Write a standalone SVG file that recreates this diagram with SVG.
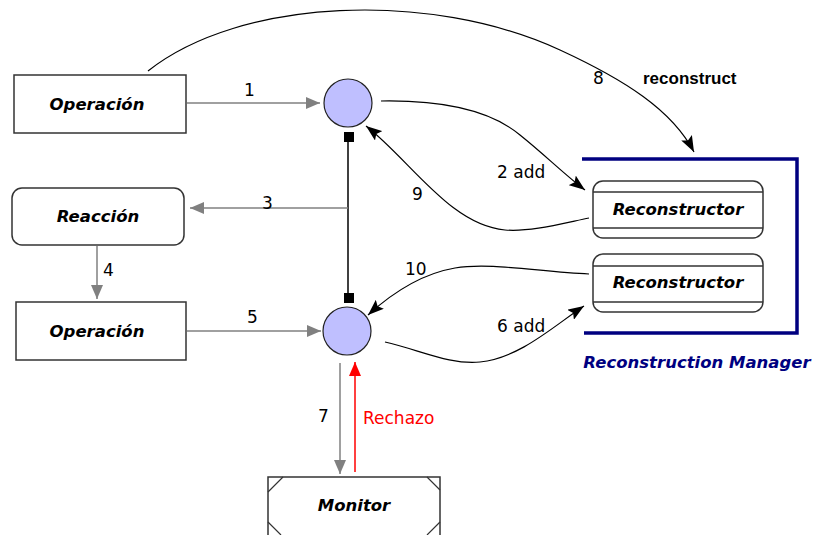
<svg xmlns="http://www.w3.org/2000/svg" width="813" height="535" viewBox="0 0 813 535">
  <defs>
    <marker id="grayHead" markerUnits="userSpaceOnUse" markerWidth="16" markerHeight="12" refX="14" refY="6" orient="auto">
      <path d="M0,0 L14,6 L0,12 z" fill="#808080"/>
    </marker>
    <marker id="blackHead" markerUnits="userSpaceOnUse" markerWidth="18" markerHeight="12" refX="16" refY="6" orient="auto">
      <path d="M0,0 L16,6 L0,12 L3,6 z" fill="#000"/>
    </marker>
    <marker id="redHead" markerUnits="userSpaceOnUse" markerWidth="16" markerHeight="12" refX="14" refY="6" orient="auto">
      <path d="M0,0 L14,6 L0,12 z" fill="#ff0000"/>
    </marker>
  </defs>
  <style>
    .box { fill: #fff; stroke: #333; stroke-width: 1.5; }
    .node-text { font-family: "DejaVu Sans", Verdana, sans-serif; font-weight: bold; font-style: italic; font-size: 16.5px; fill: #000; text-anchor: middle; }
    .lbl { font-family: "DejaVu Sans", Verdana, sans-serif; font-size: 17px; fill: #000; }
    .gray { stroke: #808080; stroke-width: 1.5; fill: none; marker-end: url(#grayHead); }
    .curve { stroke: #000; stroke-width: 1.2; fill: none; marker-end: url(#blackHead); }
    .place { fill: #bfbfff; stroke: #222; stroke-width: 1.2; }
    .sq { fill: #000; }
  </style>
  <rect width="813" height="535" fill="#fff"/>

  <!-- Reconstruction Manager container -->
  <g id="manager">
    <path d="M582,159 L797,159 L797,333 L584,333" fill="none" stroke="#000080" stroke-width="3.5"/>
    <text x="697" y="368" font-family="DejaVu Sans, Verdana, sans-serif" font-weight="bold" font-style="italic" font-size="16.5" fill="#000080" text-anchor="middle">Reconstruction Manager</text>
  </g>

  <g id="operacion1">
    <rect class="box" x="14" y="75" width="172" height="58"/>
    <text class="node-text" x="97" y="110" font-size="17">Operación</text>
  </g>

  <g id="reaccion">
    <rect class="box" x="12" y="188" width="172" height="57" rx="10"/>
    <text class="node-text" x="98" y="222" font-size="17">Reacción</text>
  </g>

  <g id="operacion2">
    <rect class="box" x="16" y="302" width="170" height="58"/>
    <text class="node-text" x="97" y="337" font-size="17">Operación</text>
  </g>

  <g id="reconstructor1">
    <rect class="box" x="593" y="181" width="170" height="57" rx="10"/>
    <line x1="593" y1="192" x2="763" y2="192" stroke="#333" stroke-width="1.3"/>
    <line x1="593" y1="228" x2="763" y2="228" stroke="#333" stroke-width="1.3"/>
    <text class="node-text" x="678" y="215">Reconstructor</text>
  </g>

  <g id="reconstructor2">
    <rect class="box" x="593" y="254" width="170" height="58" rx="10"/>
    <line x1="593" y1="266" x2="763" y2="266" stroke="#333" stroke-width="1.3"/>
    <line x1="593" y1="302" x2="763" y2="302" stroke="#333" stroke-width="1.3"/>
    <text class="node-text" x="678" y="288">Reconstructor</text>
  </g>

  <g id="monitor">
    <rect class="box" x="268" y="477" width="172" height="70"/>
    <path d="M268,492 L283,477 M427,477 L440,490 M268,522 L281,535 M440,522 L427,535" stroke="#333" stroke-width="1.2" fill="none"/>
    <text class="node-text" x="354" y="511" font-size="17">Monitor</text>
  </g>

  <g id="place1">
    <circle class="place" cx="348" cy="103" r="24"/>
  </g>
  <g id="place2">
    <circle class="place" cx="347" cy="331" r="24"/>
  </g>

  <g id="connectors">
    <!-- link between places with square ends -->
    <line x1="348" y1="142" x2="348" y2="293" stroke="#000" stroke-width="1.5"/>
    <rect class="sq" x="344" y="132" width="10" height="10"/>
    <rect class="sq" x="344" y="293" width="10" height="10"/>

    <!-- gray flows -->
    <line class="gray" x1="187" y1="103" x2="320" y2="103"/>
    <line class="gray" x1="348" y1="208" x2="190" y2="208"/>
    <line class="gray" x1="97" y1="246" x2="97" y2="299"/>
    <line class="gray" x1="187" y1="331" x2="321" y2="331"/>
    <line class="gray" x1="340" y1="363" x2="340" y2="474"/>
    <line x1="355" y1="472" x2="355" y2="362" stroke="#ff0000" stroke-width="1.5" marker-end="url(#redHead)"/>

    <!-- black curved flows -->
    <path class="curve" d="M148,71 C240,-2 430,-10 560,50 C625,80 672,110 694,152"/>
    <path class="curve" d="M381,101 C440,100 490,110 520,135 C545,155 565,175 585,190"/>
    <path class="curve" d="M589,218 C560,224 530,232 505,230 C450,225 410,160 366,126"/>
    <path class="curve" d="M589,274 C540,272 490,262 455,268 C420,274 390,295 368,315"/>
    <path class="curve" d="M385,342 C420,350 450,365 480,362 C520,358 555,325 584,306"/>

    <!-- labels -->
    <text class="lbl" x="244" y="96">1</text>
    <text class="lbl" x="497" y="178">2 add</text>
    <text class="lbl" x="262" y="209">3</text>
    <text class="lbl" x="103" y="276">4</text>
    <text class="lbl" x="247" y="323">5</text>
    <text class="lbl" x="497" y="332">6 add</text>
    <text class="lbl" x="318" y="422">7</text>
    <text class="lbl" x="593" y="84">8</text>
    <text class="lbl" x="412" y="200">9</text>
    <text class="lbl" x="405" y="275">10</text>
    <text x="643" y="84" font-family="Liberation Sans, Arial, sans-serif" font-weight="bold" font-size="17" fill="#000">reconstruct</text>
    <text x="363" y="424" font-family="DejaVu Sans, Verdana, sans-serif" font-size="17" fill="#ff0000">Rechazo</text>
  </g>
</svg>
